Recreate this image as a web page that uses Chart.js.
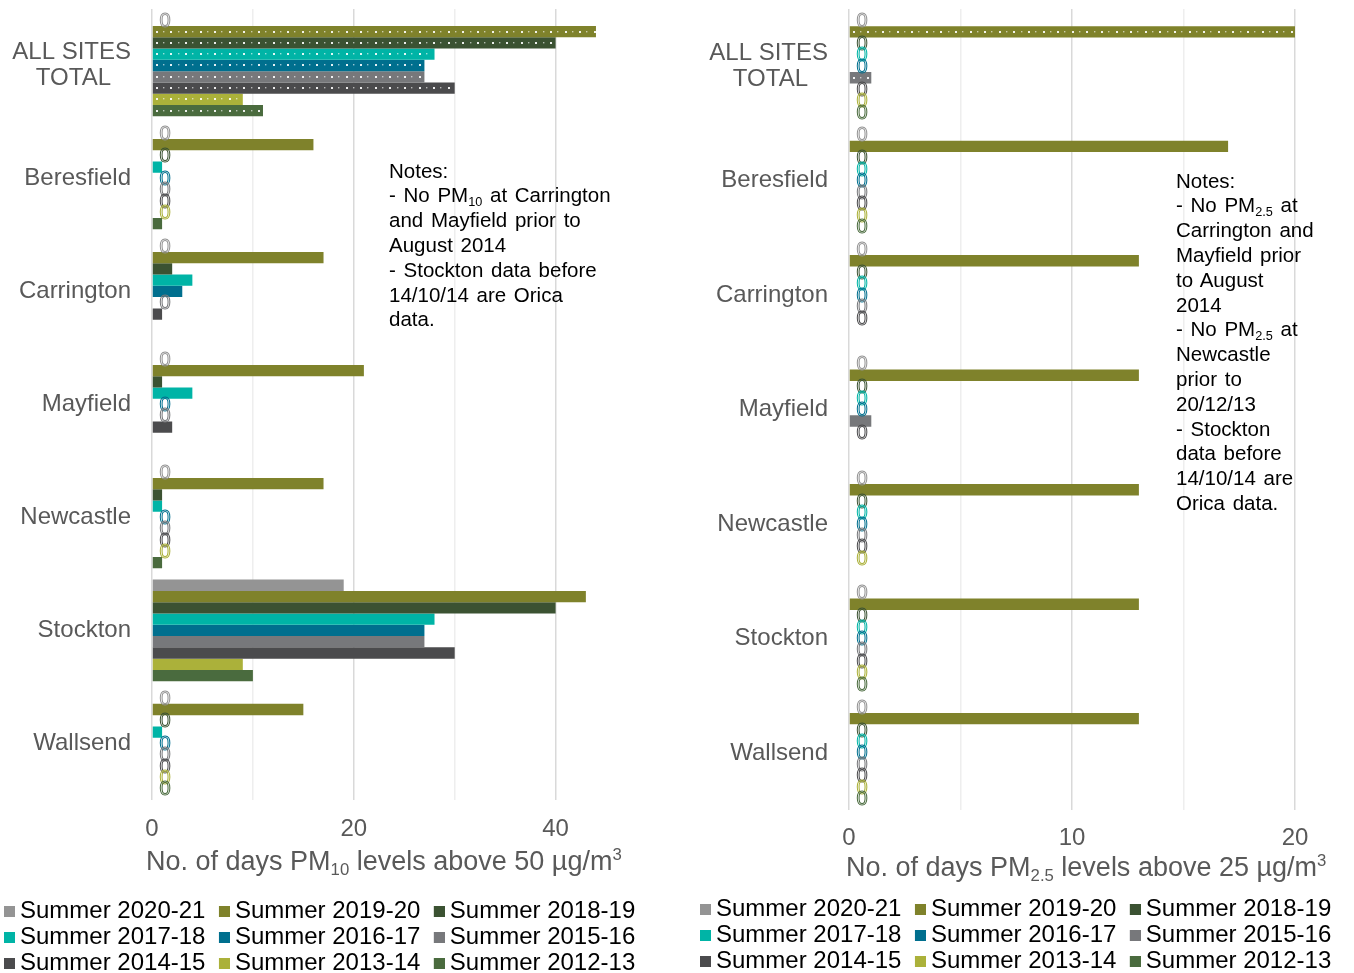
<!DOCTYPE html>
<html>
<head>
<meta charset="utf-8">
<title>Days above PM10 and PM2.5 standards, summer seasons</title>
<script src="https://cdn.jsdelivr.net/npm/chart.js@4/dist/chart.umd.min.js"></script>
<style>
  html, body { margin: 0; padding: 0; background: #fff; overflow: hidden; }
  body { width: 1354px; height: 973px; position: relative; font-family: 'Liberation Sans', Arial, sans-serif; }
  .panel { position: absolute; top: 0; }
  #leftPanel { left: 0; width: 660px; height: 985px; }
  #rightPanel { left: 696px; width: 658px; height: 983px; }
  .note { position: absolute; font-size: 20.5px; line-height: 24.8px; word-spacing: 2px; color: #000; white-space: nowrap; }
  .atitle { position: absolute; font-size: 27px; line-height: 30px; color: #595959; white-space: nowrap; }
  sub { font-size: 0.62em; vertical-align: -0.3em; line-height: 0; }
  sup { font-size: 0.62em; vertical-align: 0.6em; line-height: 0; }
</style>
</head>
<body>
<div class="panel" id="leftPanel"><canvas id="pm10Chart"></canvas></div>
<div class="panel" id="rightPanel"><canvas id="pm25Chart"></canvas></div>

<div class="atitle" style="left:146px;top:846px;">No. of days PM<sub>10</sub> levels above 50 µg/m<sup>3</sup></div>
<div class="atitle" style="left:846px;top:852px;">No. of days PM<sub>2.5</sub> levels above 25 µg/m<sup>3</sup></div>

<div class="note" style="left:389px;top:158.6px;">Notes:<br>- No PM<sub>10</sub> at Carrington<br>and Mayfield prior to<br>August 2014<br>- Stockton data before<br>14/10/14 are Orica<br>data.</div>
<div class="note" style="left:1176px;top:168.6px;">Notes:<br>- No PM<sub>2.5</sub> at<br>Carrington and<br>Mayfield prior<br>to August<br>2014<br>- No PM<sub>2.5</sub> at<br>Newcastle<br>prior to<br>20/12/13<br>- Stockton<br>data before<br>14/10/14 are<br>Orica data.</div>

<script>
// Monitoring sites (first entry is the network-wide total)
const sites = [['ALL SITES', 'TOTAL'], 'Beresfield', 'Carrington', 'Mayfield', 'Newcastle', 'Stockton', 'Wallsend'];

// Summer seasons, newest first
const seasons = ['Summer 2020-21', 'Summer 2019-20', 'Summer 2018-19', 'Summer 2017-18', 'Summer 2016-17',
                 'Summer 2015-16', 'Summer 2014-15', 'Summer 2013-14', 'Summer 2012-13'];
const seasonColors = ['#949494', '#7f822b', '#3b5232', '#00b4a6', '#006f8e', '#77787b', '#4b4b4d', '#abb13a', '#4a6b3e'];

// Days with PM10 above 50 µg/m3 (null = not monitored)
const pm10_2020_21 = [0, 0, 0, 0, 0, 19, 0];
const pm10_2019_20 = [44, 16, 17, 21, 17, 43, 15];
const pm10_2018_19 = [40, 0, 2, 1, 1, 40, 0];
const pm10_2017_18 = [28, 1, 4, 4, 1, 28, 1];
const pm10_2016_17 = [27, 0, 3, 0, 0, 27, 0];
const pm10_2015_16 = [27, 0, 0, 0, 0, 27, 0];
const pm10_2014_15 = [30, 0, 1, 2, 0, 30, 0];
const pm10_2013_14 = [9, 0, null, null, 0, 9, 0];
const pm10_2012_13 = [11, 1, null, null, 1, 10, 0];

// Days with PM2.5 above 25 µg/m3 (null = not monitored)
const pm25_2020_21 = [0, 0, 0, 0, 0, 0, 0];
const pm25_2019_20 = [20, 17, 13, 13, 13, 13, 13];
const pm25_2018_19 = [0, 0, 0, 0, 0, 0, 0];
const pm25_2017_18 = [0, 0, 0, 0, 0, 0, 0];
const pm25_2016_17 = [0, 0, 0, 0, 0, 0, 0];
const pm25_2015_16 = [1, 0, 0, 1, 0, 0, 0];
const pm25_2014_15 = [0, 0, 0, 0, 0, 0, 0];
const pm25_2013_14 = [0, 0, null, null, 0, 0, 0];
const pm25_2012_13 = [0, 0, null, null, null, 0, 0];

const pm10Series = [pm10_2020_21, pm10_2019_20, pm10_2018_19, pm10_2017_18, pm10_2016_17,
                    pm10_2015_16, pm10_2014_15, pm10_2013_14, pm10_2012_13];
const pm25Series = [pm25_2020_21, pm25_2019_20, pm25_2018_19, pm25_2017_18, pm25_2016_17,
                    pm25_2015_16, pm25_2014_15, pm25_2013_14, pm25_2012_13];

const FONT = "'Liberation Sans', Arial, sans-serif";
const TEXT_GREY = '#595959';
Chart.defaults.font.family = FONT;
Chart.defaults.color = TEXT_GREY;

// Small legend swatch: an 11px square drawn off-centre so the label sits close to it
function swatch(color) {
  const c = document.createElement('canvas');
  c.width = 18; c.height = 11;
  const g = c.getContext('2d');
  g.fillStyle = color;
  g.fillRect(7, 0, 11, 11);
  return c;
}

// Dotted fill for the totals row and outlined "0" labels for zero-day seasons
const barMarks = {
  id: 'barMarks',
  afterDatasetsDraw(chart) {
    const ctx = chart.ctx;
    const zeroX = chart.scales.x.getPixelForValue(0);
    ctx.save();
    chart.data.datasets.forEach((ds, i) => {
      const meta = chart.getDatasetMeta(i);
      const el = meta.data[0];
      const v = ds.data[0];
      if (el && v > 0) {
        const x0 = Math.min(el.base, el.x), x1 = Math.max(el.base, el.x);
        let k = 0;
        for (let x = x0 + 3; x < x1 - 2; x += 7.3, k++) {
          if (k % 2 === 0) {
            ctx.fillStyle = 'rgba(255,255,255,0.9)';
            ctx.fillRect(Math.round(x), Math.round(el.y) - 1, 2, 2);
          } else {
            ctx.fillStyle = 'rgba(255,255,255,0.6)';
            ctx.fillRect(Math.round(x), Math.round(el.y) - 1, 1.4, 1.4);
          }
        }
      }
    });
    ctx.font = '20px ' + FONT;
    ctx.textAlign = 'center';
    ctx.textBaseline = 'middle';
    ctx.lineWidth = 1;
    chart.data.datasets.forEach((ds, i) => {
      const meta = chart.getDatasetMeta(i);
      meta.data.forEach((el, j) => {
        if (ds.data[j] === 0) {
          ctx.strokeStyle = ds.backgroundColor;
          ctx.strokeText('0', zeroX + 13, el.y + 1);
        }
      });
    });
    ctx.restore();
  }
};

function buildChart(canvasId, series, cfg) {
  const datasets = series.map((values, i) => ({
    label: seasons[i],
    data: values,
    backgroundColor: seasonColors[i],
    borderWidth: 0,
    categoryPercentage: 0.9,
    barPercentage: 1.0
  }));

  return new Chart(document.getElementById(canvasId), {
    type: 'bar',
    data: { labels: sites, datasets },
    plugins: [barMarks],
    options: {
      indexAxis: 'y',
      responsive: true,
      maintainAspectRatio: false,
      animation: false,
      layout: { padding: { left: 2, right: cfg.padRight, top: 9, bottom: 0 } },
      scales: {
        x: {
          type: 'linear',
          min: 0,
          max: cfg.max,
          afterBuildTicks: s => { s.ticks = s.ticks.filter(t => t.value <= cfg.lastTick); },
          afterFit: s => { s.paddingLeft = 0; s.paddingRight = 0; },
          ticks: {
            stepSize: cfg.step,
            includeBounds: false,
            autoSkip: false,
            maxRotation: 0,
            padding: cfg.tickPad,
            color: TEXT_GREY,
            font: { size: 24 },
            callback: v => (v % cfg.major === 0 ? String(v) : '')
          },
          grid: {
            drawTicks: false,
            color: c => (c.tick && c.tick.value % cfg.major === 0 ? '#d9d9d9' : '#eeeeee'),
            lineWidth: 1.5
          },
          border: { display: false },
          title: { display: true, text: ' ', font: { size: 24 }, padding: { top: 0, bottom: cfg.titlePad } }
        },
        y: {
          type: 'category',
          afterFit: s => { s.width = cfg.yWidth; s.paddingTop = 0; s.paddingBottom = 0; },
          grid: { display: false, drawTicks: false },
          border: { display: false },
          ticks: {
            padding: 21,
            color: TEXT_GREY,
            font: { size: 24, lineHeight: 1.1 },
            autoSkip: false,
            callback: function (v) {
              const l = this.getLabelForValue(v);
              return Array.isArray(l) ? [l[0], l[1] + '   '] : l;
            }
          }
        }
      },
      plugins: {
        tooltip: { enabled: false },
        legend: {
          position: 'bottom',
          align: 'start',
          labels: {
            usePointStyle: true,
            boxWidth: 4,
            boxHeight: 11,
            padding: 2,
            color: TEXT_GREY,
            font: { size: 24 },
            generateLabels: chart => chart.data.datasets.map((ds, i) => ({
              text: ds.label + ' \u2009',
              fillStyle: ds.backgroundColor,
              strokeStyle: ds.backgroundColor,
              lineWidth: 0,
              pointStyle: swatch(ds.backgroundColor),
              hidden: false,
              datasetIndex: i
            }))
          }
        }
      }
    }
  });
}

buildChart('pm10Chart', pm10Series, {
  max: 50, lastTick: 40, step: 10, major: 20,
  padRight: 3.5, yWidth: 150, tickPad: 15.1, titlePad: 9.3
});

buildChart('pm25Chart', pm25Series, {
  max: 22.5, lastTick: 20, step: 5, major: 10,
  padRight: 3.25, yWidth: 151, tickPad: 13.6, titlePad: 0
});
</script>
</body>
</html>
